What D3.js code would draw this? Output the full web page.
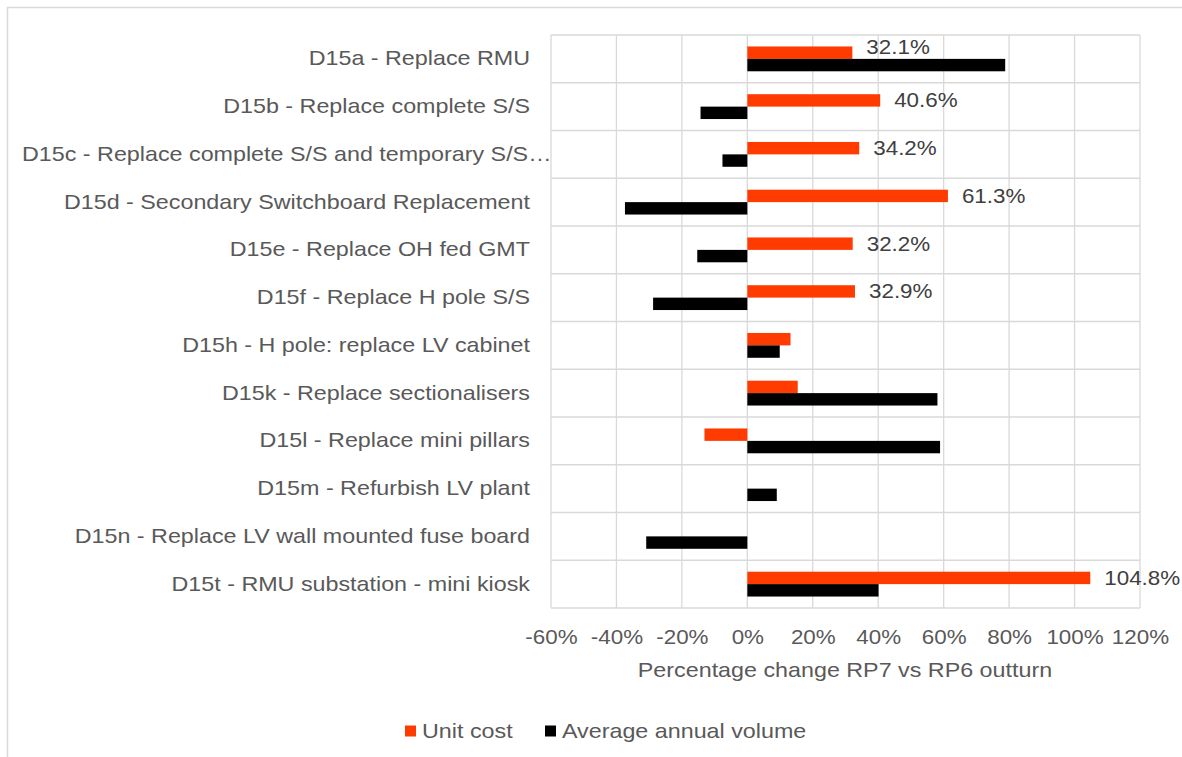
<!DOCTYPE html>
<html>
<head>
<meta charset="utf-8">
<script src="https://cdn.jsdelivr.net/npm/d3@7"></script>
<style>
  body { margin: 0; background: #fff; }
  text { font-family: "Liberation Sans", Arial, sans-serif; }
</style>
</head>
<body>
<div id="chart"></div>
<script>
"use strict";

var categories = [
  "D15a - Replace RMU",
  "D15b - Replace complete S/S",
  "D15c - Replace complete S/S and temporary S/S\u2026",
  "D15d - Secondary Switchboard Replacement",
  "D15e - Replace OH fed GMT",
  "D15f - Replace H pole S/S",
  "D15h - H pole: replace LV cabinet",
  "D15k - Replace sectionalisers",
  "D15l - Replace mini pillars",
  "D15m - Refurbish LV plant",
  "D15n - Replace LV wall mounted fuse board",
  "D15t - RMU substation - mini kiosk"
];
var unitCost = [32.1, 40.6, 34.2, 61.3, 32.2, 32.9, 13.2, 15.4, -13.1, null, null, 104.8];
var avgVolume = [78.8, -14.3, -7.6, -37.4, -15.3, -28.8, 9.9, 58.1, 58.9, 9.0, -30.9, 40.1];
var unitCostLabels = ["32.1%", "40.6%", "34.2%", "61.3%", "32.2%", "32.9%", "", "", "", "", "", "104.8%"];
var xTicks = [-60, -40, -20, 0, 20, 40, 60, 80, 100, 120];
var seriesNames = ["Unit cost", "Average annual volume"];
var seriesColors = ["#ff3b00", "#000000"];

var W = 1182, H = 757;
var plot = { left: 551, right: 1140, top: 35, bottom: 608 };
var labelAreaLeft = 22;
var grid = "#d9d9d9";

// widen a text element around its own anchor point (the source text runs wide)
function widen(sel, s) {
  sel.each(function () {
    var t = d3.select(this);
    var ax = +t.attr("x") || 0;
    t.attr("transform", "translate(" + ax + ",0) scale(" + s + ",1) translate(" + (-ax) + ",0)");
  });
}

var svg = d3.select("#chart").append("svg")
  .attr("width", W).attr("height", H);

// outer frame (only top/left visible in the crop)
svg.append("rect")
  .attr("x", 7.5).attr("y", 7.5)
  .attr("width", W + 20).attr("height", H + 20)
  .attr("fill", "none").attr("stroke", grid).attr("stroke-width", 1.5);

var x = d3.scaleLinear().domain([-60, 120]).range([plot.left, plot.right]);
var y = d3.scaleBand().domain(categories).range([plot.top, plot.bottom]).padding(0);
var barH = y.bandwidth() * 0.26;

// vertical gridlines
svg.append("g").selectAll("line").data(xTicks).enter().append("line")
  .attr("x1", function (d) { return x(d); })
  .attr("x2", function (d) { return x(d); })
  .attr("y1", plot.top).attr("y2", plot.bottom)
  .attr("stroke", grid).attr("stroke-width", 1.3);

// horizontal gridlines at band edges
var edges = categories.map(function (c) { return y(c); }).concat([plot.bottom]);
svg.append("g").selectAll("line").data(edges).enter().append("line")
  .attr("x1", plot.left).attr("x2", plot.right)
  .attr("y1", function (d) { return d; })
  .attr("y2", function (d) { return d; })
  .attr("stroke", grid).attr("stroke-width", 1.3);

// x axis labels
var xAxis = d3.axisBottom(x).tickValues(xTicks)
  .tickFormat(function (d) { return d + "%"; })
  .tickSize(0).tickPadding(22);
var gx = svg.append("g").attr("transform", "translate(0," + plot.bottom + ")").call(xAxis);
gx.select(".domain").remove();
gx.selectAll("text").attr("font-size", 20).attr("fill", "#595959")
  .style("font-family", "Liberation Sans, Arial, sans-serif")
  .call(widen, 1.12);

// y axis labels
var catStretch = 1.165;
var yAxis = d3.axisLeft(y).tickSize(0).tickPadding(21);
var gy = svg.append("g").attr("transform", "translate(" + plot.left + ",0)").call(yAxis);
gy.select(".domain").remove();
gy.selectAll("text").attr("font-size", 20).attr("fill", "#595959")
  .style("font-family", "Liberation Sans, Arial, sans-serif")
  .each(function () {
    // a label too long for the label area starts at its left edge instead
    var t = d3.select(this);
    var w = this.getComputedTextLength() * catStretch;
    if (w > plot.left - 21 - labelAreaLeft) {
      t.attr("text-anchor", "start").attr("x", labelAreaLeft - plot.left);
    }
  })
  .call(widen, catStretch);

var rows = categories.map(function (c, i) {
  return { cat: c, u: unitCost[i], v: avgVolume[i], lab: unitCostLabels[i] };
});

var mid = function (d) { return y(d.cat) + y.bandwidth() / 2; };

// unit cost bars
svg.append("g").selectAll("rect").data(rows.filter(function (d) { return d.u !== null; }))
  .enter().append("rect")
  .attr("x", function (d) { return x(Math.min(0, d.u)); })
  .attr("width", function (d) { return Math.abs(x(d.u) - x(0)); })
  .attr("y", function (d) { return mid(d) - barH; })
  .attr("height", barH)
  .attr("fill", seriesColors[0]);

// volume bars
svg.append("g").selectAll("rect").data(rows.filter(function (d) { return d.v !== null; }))
  .enter().append("rect")
  .attr("x", function (d) { return x(Math.min(0, d.v)); })
  .attr("width", function (d) { return Math.abs(x(d.v) - x(0)); })
  .attr("y", function (d) { return mid(d); })
  .attr("height", barH)
  .attr("fill", seriesColors[1]);

// data labels for unit cost
svg.append("g").selectAll("text").data(rows.filter(function (d) { return d.lab; }))
  .enter().append("text")
  .attr("x", function (d) { return x(d.u) + 14; })
  .attr("y", function (d) {
    var c = mid(d) - barH / 2;
    // push up when the volume bar runs past the label
    return d.v > d.u ? c - 6 : c;
  })
  .attr("dy", "0.35em")
  .attr("font-size", 20).attr("fill", "#404040")
  .text(function (d) { return d.lab; })
  .call(widen, 1.12);

// axis title
svg.append("text")
  .attr("x", 845).attr("y", 670)
  .attr("dy", "0.35em").attr("text-anchor", "middle")
  .attr("font-size", 20).attr("fill", "#595959")
  .text("Percentage change RP7 vs RP6 outturn")
  .call(widen, catStretch);

// legend
var legendX = [405, 545];
var legend = svg.append("g").selectAll("g").data(seriesNames).enter().append("g")
  .attr("transform", function (d, i) { return "translate(" + legendX[i] + ",731)"; });
legend.append("rect")
  .attr("x", 0).attr("y", -5.5).attr("width", 11).attr("height", 11)
  .attr("fill", function (d, i) { return seriesColors[i]; });
legend.append("text")
  .attr("x", 17).attr("dy", "0.35em")
  .attr("font-size", 20).attr("fill", "#595959")
  .text(function (d) { return d; })
  .call(widen, catStretch);
</script>
</body>
</html>
